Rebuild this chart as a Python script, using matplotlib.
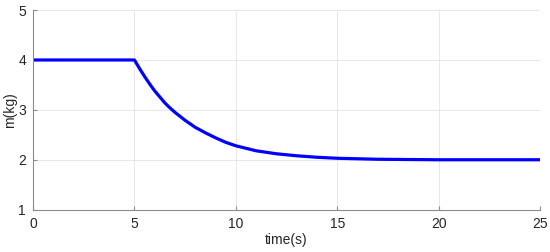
import matplotlib.pyplot as plt

# values
time_s = [0, 5, 5.25, 5.5, 5.75, 6, 6.25, 6.5, 6.75, 7, 7.25, 7.5, 7.75, 8, 8.5, 9, 9.5,
          10, 10.5, 11, 11.5, 12, 13, 14, 15, 16, 17, 20, 25]
mass_kg = [4.0, 4.0, 3.83, 3.67, 3.52, 3.38, 3.26, 3.14, 3.04, 2.95, 2.87, 2.79, 2.72,
           2.65, 2.54, 2.44, 2.35, 2.28, 2.23, 2.18, 2.15, 2.12, 2.08, 2.05, 2.03,
           2.02, 2.01, 2.0, 2.0]
xticks = [0, 5, 10, 15, 20, 25]
yticks = [1, 2, 3, 4, 5]

plt.rcParams['font.family'] = ['Liberation Sans', 'DejaVu Sans']

fig = plt.figure(figsize=(5.5, 2.52), dpi=100)
ax = fig.add_axes([0.06, 0.168, 0.922, 0.792])

ax.plot(time_s, mass_kg, color='#0000ff', linewidth=2.3,
        solid_joinstyle='round', solid_capstyle='butt')

ax.set_xlim(0, 25)
ax.set_ylim(1, 5)
ax.set_xticks(xticks)
ax.set_yticks(yticks)
ax.grid(True, color='#e3e3e3', linewidth=0.6)
ax.set_axisbelow(True)

for s in ['top', 'right']:
    ax.spines[s].set_visible(False)
for s in ['bottom', 'left']:
    ax.spines[s].set_color('#8c8c8c')
    ax.spines[s].set_linewidth(0.8)

ax.tick_params(direction='in', length=3, width=0.8, color='#8c8c8c',
               labelsize=10, labelcolor='#262626', pad=5)

ax.set_xlabel('time(s)', fontsize=10, color='#262626', labelpad=2)
ax.set_ylabel('m(kg)', fontsize=10, color='#262626', labelpad=1)

fig.savefig('out.png', dpi=100)
